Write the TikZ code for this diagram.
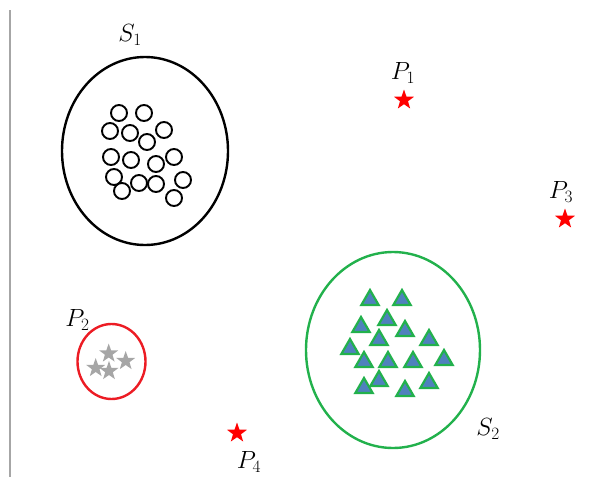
\documentclass[tikz,border=0pt]{standalone}
\usepackage{amsmath}
\usepackage{xcolor}
\usepackage{tikz}
\usetikzlibrary{shapes.geometric}
\definecolor{clgreen}{HTML}{22B14C}
\definecolor{clblue}{HTML}{4F81BD}
\definecolor{clred}{HTML}{EC1C24}
\definecolor{clgray}{HTML}{A6A6A6}
\begin{document}
\begin{tikzpicture}[x=1pt,y=-1pt,
    cluster/.style={ellipse,draw,line width=2.4pt,inner sep=0pt},
    dot/.style={circle,draw,line width=1.9pt,minimum size=16pt,inner sep=0pt},
    tri/.style={regular polygon,regular polygon sides=3,fill=clblue,draw=clgreen,line width=2.2pt,minimum size=20pt,inner sep=0pt},
    pstar/.style={star,star points=5,star point ratio=2.5,fill=#1,inner sep=0pt,minimum size=20pt},
    lbl/.style={font=\fontsize{25}{30}\selectfont}]
  \useasboundingbox (0,0) rectangle (592,477);
  \draw[clgray,line width=2pt] (10,10) coordinate (axtop) -- (10,477) coordinate (axbot);
  % clusters
  \node[cluster,minimum width=166pt,minimum height=188pt] (S1) at (145,151) {};
  \node[cluster,draw=clgreen,minimum width=174pt,minimum height=196pt] (S2) at (393,350) {};
  \node[cluster,draw=clred,minimum width=68pt,minimum height=75pt] (C2) at (111.5,361.5) {};
  % members of S1
  \foreach \px/\py [count=\i] in {119/113,144/113,110/131,130/133,164/130,147/142,111/157,131/160,156/164,174/157,114/177,139/183,156/184,183/180,122/191,174/198}
    \node[dot] (c\i) at (\px,\py) {};
  % members of S2
  \foreach \px/\py [count=\i] in {370/300,402/300,387/320,361/327,405/331,379/340,429/340,350/349,364/362,388/362,413/362,444/360,379/381,364/388,405/391,429/383}
    \node[tri] (t\i) at (\px,\py) {};
  % members of P2
  \foreach \px/\py [count=\i] in {108.7/353.5,95.7/368,109/371,125.7/361}
    \node[pstar=clgray] (g\i) at (\px,\py) {};
  % outliers
  \node[pstar=red,minimum size=21pt] (P1) at (404,100) {};
  \node[pstar=red,minimum size=21pt] (P3) at (565,219) {};
  \node[pstar=red,minimum size=21pt] (P4) at (237,433) {};
  % labels
  \node[lbl] (lS1) at (130,35) {$S_1$};
  \node[lbl] (lS2) at (488,429) {$S_2$};
  \node[lbl] (lP1) at (403,73) {$P_1$};
  \node[lbl] (lP2) at (77.5,320) {$P_2$};
  \node[lbl] (lP3) at (561,192) {$P_3$};
  \node[lbl] (lP4) at (249,462) {$P_4$};
\end{tikzpicture}
\end{document}
